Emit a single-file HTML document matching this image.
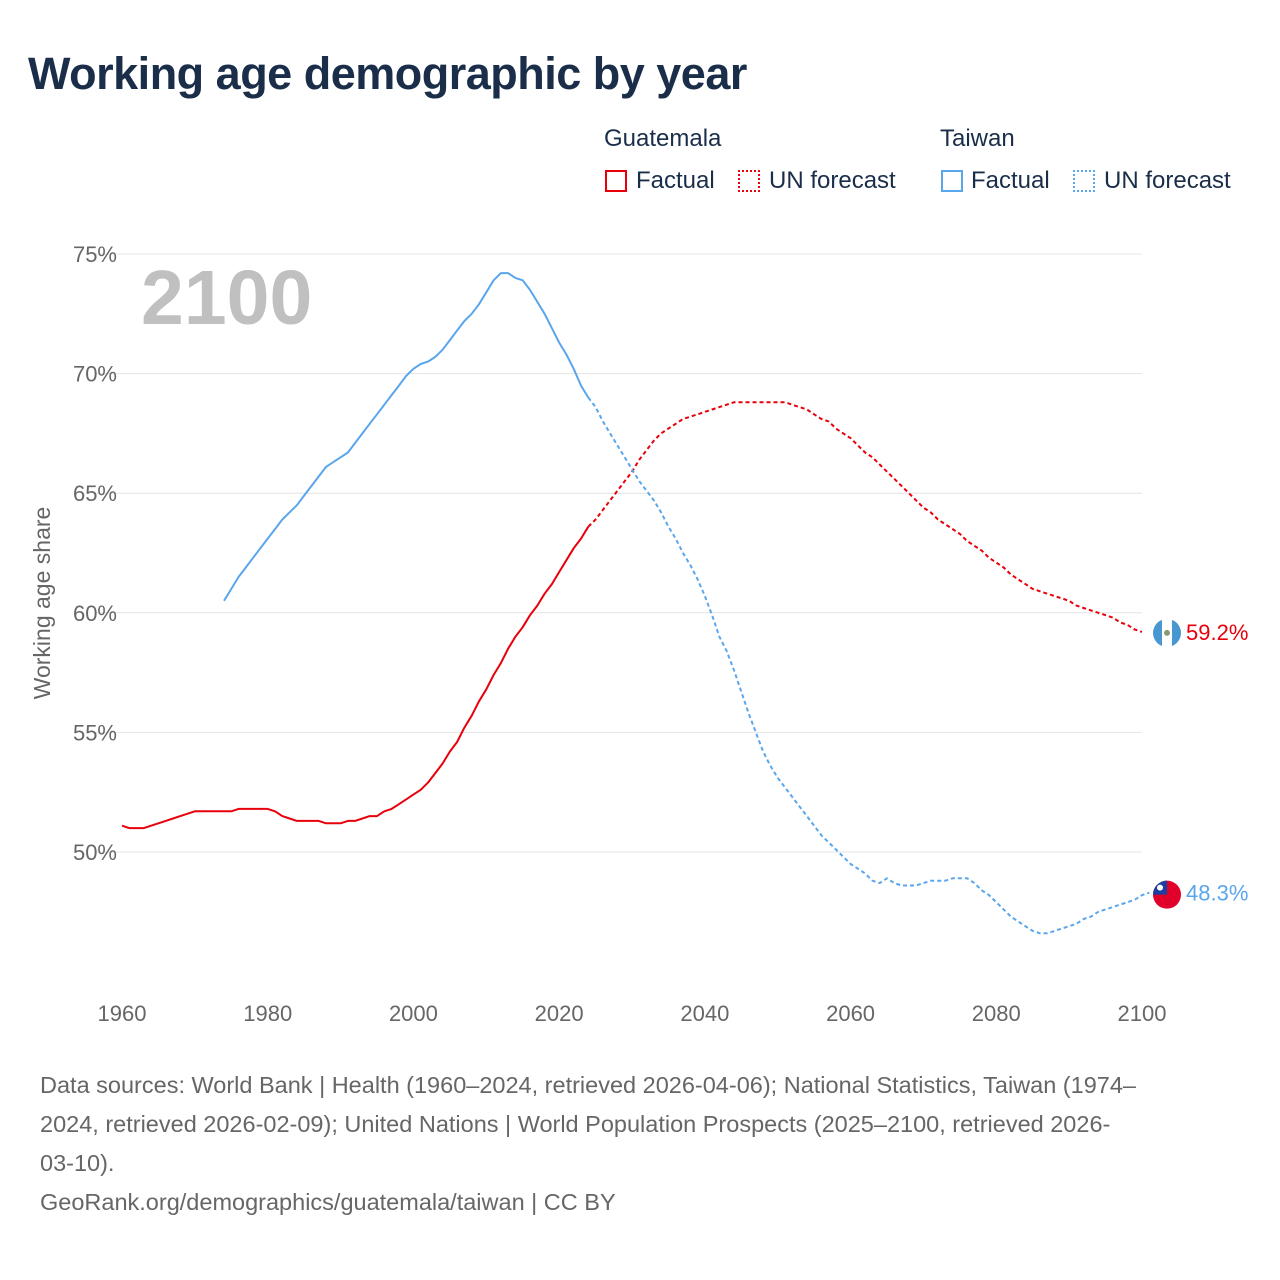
<!DOCTYPE html>
<html><head><meta charset="utf-8">
<style>
body{margin:0;background:#fff;font-family:"Liberation Sans",sans-serif;}
#wrap{position:relative;width:1280px;height:1280px;overflow:hidden;}
h1{position:absolute;left:28px;top:48px;margin:0;font-size:45px;font-weight:bold;color:#1a2e4a;letter-spacing:-0.5px;}
.lg{position:absolute;font-size:24px;color:#1a2e4a;}
.box{position:absolute;width:22px;height:22px;box-sizing:border-box;}
.foot{position:absolute;left:40px;font-size:23.5px;color:#666;line-height:39px;width:1230px;white-space:nowrap;}
</style></head><body>
<div id="wrap">
<h1>Working age demographic by year</h1>
<div class="lg" style="left:604px;top:125px">Guatemala</div>
<div class="lg" style="left:940px;top:125px">Taiwan</div>
<div class="box" style="left:605px;top:170px;border:2px solid #e8000b"></div>
<div class="lg" style="left:636px;top:167px">Factual</div>
<div class="box" style="left:738px;top:170px;border:2px dotted #e8000b"></div>
<div class="lg" style="left:769px;top:167px">UN forecast</div>
<div class="box" style="left:941px;top:170px;border:2px solid #5aa6ec"></div>
<div class="lg" style="left:971px;top:167px">Factual</div>
<div class="box" style="left:1073px;top:170px;border:2px dotted #5aa6ec"></div>
<div class="lg" style="left:1104px;top:167px">UN forecast</div>
<svg id="svg" width="1280" height="1280" style="position:absolute;left:0;top:0"></svg>
<div class="foot" style="top:1066px">Data sources: World Bank | Health (1960–2024, retrieved 2026-04-06); National Statistics, Taiwan (1974–<br>2024, retrieved 2026-02-09); United Nations | World Population Prospects (2025–2100, retrieved 2026-<br>03-10).</div>
<div class="foot" style="top:1183px">GeoRank.org/demographics/guatemala/taiwan | CC BY</div>
</div>
<script>
const yTicks=[50,55,60,65,70,75];
const xTicks=[1960,1980,2000,2020,2040,2060,2080,2100];
const gtFactStart=1960;
const gtFactual=[51.1,51.0,51.0,51.0,51.1,51.2,51.3,51.4,51.5,51.6,51.7,51.7,51.7,51.7,51.7,51.7,51.8,51.8,51.8,51.8,51.8,51.7,51.5,51.4,51.3,51.3,51.3,51.3,51.2,51.2,51.2,51.3,51.3,51.4,51.5,51.5,51.7,51.8,52.0,52.2,52.4,52.6,52.9,53.3,53.7,54.2,54.6,55.2,55.7,56.3,56.8,57.4,57.9,58.5,59.0,59.4,59.9,60.3,60.8,61.2,61.7,62.2,62.7,63.1,63.6];
const gtForecastStart=2024;
const gtForecast=[63.6,63.9,64.3,64.7,65.1,65.5,65.9,66.4,66.8,67.2,67.5,67.7,67.9,68.1,68.2,68.3,68.4,68.5,68.6,68.7,68.8,68.8,68.8,68.8,68.8,68.8,68.8,68.8,68.7,68.6,68.5,68.3,68.1,68.0,67.7,67.5,67.3,67.0,66.7,66.5,66.2,65.9,65.6,65.3,65.0,64.7,64.4,64.2,63.9,63.7,63.5,63.3,63.0,62.8,62.6,62.3,62.1,61.9,61.6,61.4,61.2,61.0,60.9,60.8,60.7,60.6,60.5,60.3,60.2,60.1,60.0,59.9,59.8,59.6,59.5,59.3,59.2];
const twFactStart=1974;
const twFactual=[60.5,61.0,61.5,61.9,62.3,62.7,63.1,63.5,63.9,64.2,64.5,64.9,65.3,65.7,66.1,66.3,66.5,66.7,67.1,67.5,67.9,68.3,68.7,69.1,69.5,69.9,70.2,70.4,70.5,70.7,71.0,71.4,71.8,72.2,72.5,72.9,73.4,73.9,74.2,74.2,74.0,73.9,73.5,73.0,72.5,71.9,71.3,70.8,70.2,69.5,69.0];
const twForecastStart=2024;
const twForecast=[69.0,68.6,68.0,67.5,67.0,66.5,66.0,65.5,65.1,64.7,64.2,63.6,63.1,62.5,62.0,61.4,60.7,59.9,59.0,58.4,57.6,56.7,55.8,55.0,54.2,53.6,53.1,52.7,52.3,51.9,51.5,51.1,50.7,50.4,50.1,49.8,49.5,49.3,49.1,48.8,48.7,48.9,48.7,48.6,48.6,48.6,48.7,48.8,48.8,48.8,48.9,48.9,48.9,48.7,48.4,48.2,47.9,47.6,47.3,47.1,46.9,46.7,46.6,46.6,46.7,46.8,46.9,47.0,47.2,47.3,47.5,47.6,47.7,47.8,47.9,48.0,48.2,48.3];
const NS='http://www.w3.org/2000/svg';
const svg=document.getElementById('svg');
const X=y=>122+(y-1960)*(1020/140);
const Y=v=>852-(v-50)*(598/25);
function el(t,a){const e=document.createElementNS(NS,t);for(const k in a)e.setAttribute(k,a[k]);svg.appendChild(e);return e;}
yTicks.forEach(t=>{
 const l=el('line',{x1:95,x2:1142,y1:Y(t),y2:Y(t),stroke:'#e4e4e4','stroke-width':1});
 
 
 const tx=el('text',{x:117,y:Y(t)+8,'text-anchor':'end','font-size':22,fill:'#666','font-family':'Liberation Sans, sans-serif'});
 tx.textContent=t+'%';
 
 
});
xTicks.forEach(t=>{
 const tx=el('text',{x:X(t),y:1021,'text-anchor':'middle','font-size':22,fill:'#666','font-family':'Liberation Sans, sans-serif'});
 tx.textContent=t;
 
 
});
const yt=el('text',{x:0,y:0,transform:'translate(50,603) rotate(-90)','text-anchor':'middle','font-size':23,fill:'#666','font-family':'Liberation Sans, sans-serif'});
yt.textContent='Working age share';


const yr=el('text',{x:141,y:324,'font-size':77,'font-weight':'bold',fill:'#c0c0c0','font-family':'Liberation Sans, sans-serif'});
yr.textContent='2100';


function line(arr,start,color,dash,name){
 const d=arr.map((v,i)=>(i?'L':'M')+X(start+i).toFixed(1)+','+Y(v).toFixed(1)).join('');
 const p=el('path',{d:d,fill:'none',stroke:color,'stroke-width':2,'stroke-dasharray':dash||'none','stroke-linejoin':'round'});
 
 
}
line(gtFactual,gtFactStart,'#e8000b',null,'guatemala-factual-line');
line(gtForecast,gtForecastStart,'#e8000b','4,3','guatemala-forecast-line');
line(twFactual,twFactStart,'#5aa6ec',null,'taiwan-factual-line');
line(twForecast,twForecastStart,'#5aa6ec','4,3','taiwan-forecast-line');
const gLast=gtForecast[gtForecast.length-1], tLast=twForecast[twForecast.length-1];
let g=el('circle',{cx:1167,cy:Y(gLast)+1,r:14,fill:'#4997d0'});


el('rect',{x:1162,y:Y(gLast)-13,width:10,height:28,fill:'#fff'});
el('circle',{cx:1167,cy:Y(gLast)+1,r:3,fill:'#8a9a70'});
let tw=el('circle',{cx:1167,cy:Y(tLast)+2,r:14,fill:'#e0002a'});


el('path',{d:`M1153,${Y(tLast)+2} A14,14 0 0 1 1167,${Y(tLast)-12} L1167,${Y(tLast)+2} Z`,fill:'#1a3fa0'});
el('circle',{cx:1160,cy:Y(tLast)-5,r:3,fill:'#fff'});
let gl=el('text',{x:1186,y:Y(gLast)+8,'font-size':22,fill:'#e8000b','font-family':'Liberation Sans, sans-serif'});
gl.textContent=gLast.toFixed(1)+'%';


let tl=el('text',{x:1186,y:Y(tLast)+8,'font-size':22,fill:'#5aa6ec','font-family':'Liberation Sans, sans-serif'});
tl.textContent=tLast.toFixed(1)+'%';


</script>
</body></html>
